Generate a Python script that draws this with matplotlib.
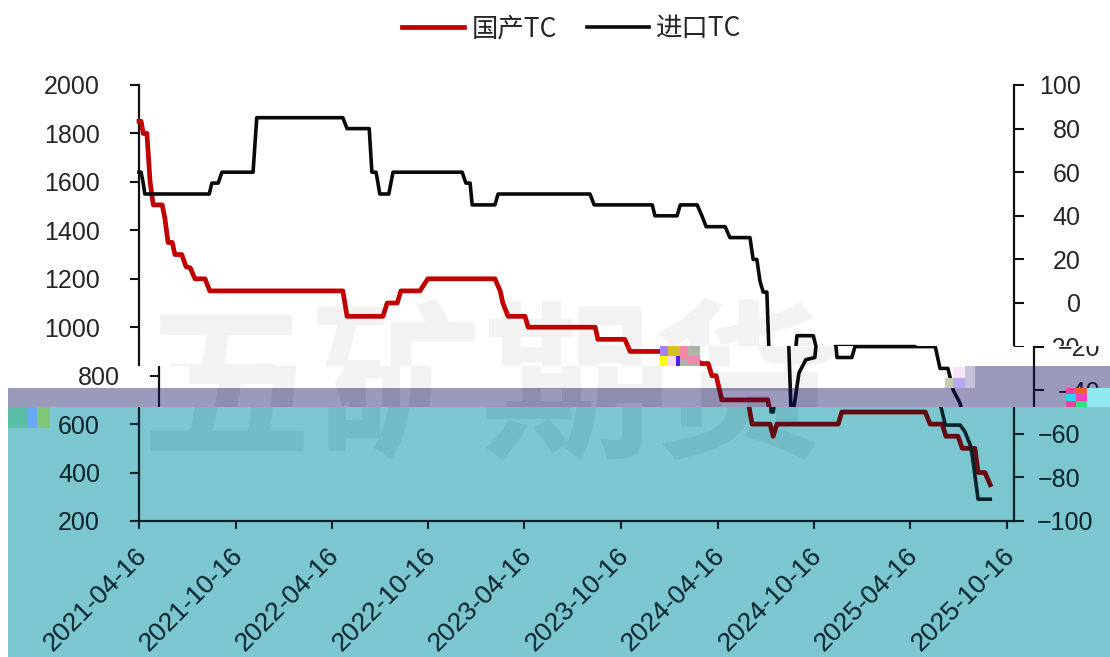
import numpy as np
import matplotlib
matplotlib.use("Agg")
import matplotlib.pyplot as plt
from matplotlib.patches import Rectangle
from matplotlib.lines import Line2D
from matplotlib.transforms import Bbox, IdentityTransform, ScaledTranslation

W, H = 1110, 657
START = np.datetime64("2021-04-16")

red_days = [0,4,8,15,21,27,44,49,55,63,68,81,89,97,106,125,134,386,394,462,470,489,496,532,547,674,684,689,699,731,737,864,869,920,930,1009,1025,1040,1047,1055,1066,1153,1161,1195,1201,1208,1324,1331,1489,1498,1521,1528,1551,1559,1583,1589,1602,1612]
red_vals = [1850,1850,1800,1800,1600,1505,1505,1450,1350,1350,1300,1300,1250,1245,1200,1200,1150,1150,1045,1045,1100,1100,1150,1150,1200,1200,1150,1100,1045,1045,1000,1000,950,950,900,900,850,850,800,800,700,700,600,600,550,600,600,650,650,600,600,550,550,500,500,400,400,350]
black_days = [0,4,8,11,133,138,150,157,216,223,386,394,436,441,449,456,473,481,612,619,627,631,674,680,854,862,972,977,1019,1025,1057,1066,1074,1110,1119,1157,1163,1170,1176,1182,1189,1197,1201,1212,1225,1242,1246,1277,1282,1284,1312,1318,1470,1479,1494,1504,1517,1521,1527,1555,1564,1574,1578,1589,1612]
black_vals = [60,60,55,50,50,55,55,60,60,85,85,80,80,60,60,50,50,60,60,55,55,45,45,50,50,45,45,40,40,45,45,40,35,35,30,30,20,20,10,5,5,-50,-50,-32,-26,-25,-15,-15,-20,-25,-25,-20,-20,-30,-30,-40,-46,-50,-56,-56,-59,-65,-70,-90,-90]
left_ticks = [200,400,600,800,1000,1200,1400,1600,1800,2000]
right_ticks = [-100,-80,-60,-40,-20,0,20,40,60,80,100]
x_tick_labels = ["2021-04-16","2021-10-16","2022-04-16","2022-10-16","2023-04-16","2023-10-16","2024-04-16","2024-10-16","2025-04-16","2025-10-16"]
series_names = ["国产TC","进口TC"]
watermark = "五矿期货"

WHITE = dict(red="#C00000", line="#0a0a0a", ax="#111111", text="#262626", wm="#F2F2F2")
TEAL = dict(red="#640A10", line="#04222A", ax="#04222A", text="#04222A", wm="#72BBC5")
GRAY = dict(red="#700020", line="#0C0A30", ax="#14123A", text="#14123A", wm="#8F8DAE")
TEAL_BG, GRAY_BG = "#7CC6D0", "#9C9ABA"

REGIONS = [
    ((0, 0, W, 346), 0, WHITE),
    ((0, 346, 660, 366), 0, WHITE),
    ((700, 346, W, 366), 20, WHITE),
    ((8, 366, 965, 388), 20, WHITE),
    ((975, 366, W, 388), 20, GRAY),
    ((8, 388, W, 407), 20, GRAY),
    ((8, 407, W, H), 0, TEAL),
]
BACKS = [((975, 366, W, 407), GRAY_BG), ((8, 388, W, 407), GRAY_BG), ((8, 407, W, H), TEAL_BG)]
MOSAIC = [
    ((660, 346, 668, 356), "#A880F0"), ((660, 356, 668, 366), "#FFFF10"),
    ((668, 346, 680, 356), "#D8C020"), ((668, 356, 676, 366), "#F4DCF4"), ((676, 356, 680, 366), "#4A20F0"),
    ((680, 346, 700, 366), "#ACB5A5"), ((680, 346, 688, 360), "#F288A8"), ((688, 356, 700, 364), "#F288A8"),
    ((945, 378, 953, 388), "#C8CCB0"), ((953, 367, 965, 378), "#FCE4F8"), ((953, 378, 965, 388), "#B8A8F8"),
    ((965, 366, 975, 388), "#C4C2D8"),
    ((1066, 388, 1076, 394), "#F040A0"), ((1066, 394, 1076, 401), "#30D0F0"), ((1066, 401, 1076, 407), "#F040A0"),
    ((1076, 388, 1087, 394), "#F06030"), ((1076, 394, 1087, 401), "#F040C0"), ((1076, 401, 1087, 407), "#30E080"),
    ((1087, 388, W, 407), "#90E8F0"),
    ((8, 407, 28, 428), "#5BBFA8"), ((28, 407, 37, 428), "#6AA8F8"), ((37, 407, 50, 428), "#80C878"),
]

def px_rect(r, color):
    x0, y0, x1, y1 = r
    return Rectangle((x0, H - y1), x1 - x0, y1 - y0, transform=IdentityTransform(),
                     facecolor=color, edgecolor="none", zorder=-5)

fig = plt.figure(figsize=(W / 100, H / 100), dpi=100, facecolor="white")
for r, c in BACKS:
    fig.add_artist(px_rect(r, c))

AX_L, AX_R, AX_T, AX_B = 139, 1014, 85, 521
PX_PER_DAY = 0.528
dates_red = START + np.array(red_days, dtype="timedelta64[D]")
dates_black = START + np.array(black_days, dtype="timedelta64[D]")
tick_dates = np.array(x_tick_labels, dtype="datetime64[D]")
xlim = (START, START + np.timedelta64(int((AX_R - AX_L) / PX_PER_DAY), "D"))
FONT = ["Liberation Sans", "DejaVu Sans"]
panels = []

def draw(rect, dx, pal, with_legend):
    x0, y0, x1, y1 = rect
    box = Bbox([[x0, H - y1], [x1, H - y0]])
    ax = fig.add_axes([(AX_L + dx) / W, (H - AX_B) / H, (AX_R - AX_L) / W, (AX_B - AX_T) / H])
    ax.patch.set_visible(False)
    ax2 = ax.twinx()
    ax2.patch.set_visible(False)
    l1, = ax.plot(dates_red, red_vals, color=pal["red"], lw=3.4, zorder=3, solid_joinstyle="round")
    l2, = ax2.plot(dates_black, black_vals, color=pal["line"], lw=2.6, zorder=3, solid_joinstyle="round")
    ax.set_xlim(*xlim)
    ax.set_ylim(200, 2000)
    ax2.set_ylim(-100, 100)
    ax.set_yticks(left_ticks)
    ax2.set_yticks(right_ticks)
    ax.set_xticks(tick_dates)
    ax.set_xticklabels(x_tick_labels, rotation=45, ha="right", rotation_mode="anchor")
    ax.tick_params(axis="y", length=6.5, width=1.5, color=pal["ax"], labelcolor=pal["text"], labelsize=18, pad=21.5)
    ax.tick_params(axis="x", length=6, width=1.5, color=pal["ax"], labelcolor=pal["text"], labelsize=19, pad=10)
    ax2.tick_params(axis="y", length=7, width=1.5, color=pal["ax"], labelcolor=pal["text"], labelsize=18, pad=41)
    for a in (ax, ax2):
        for s in a.spines.values():
            s.set_color(pal["ax"])
            s.set_linewidth(1.6)
            s.set_clip_on(True)
            s.set_clip_box(box)
        a.spines["top"].set_visible(False)
        for t in a.get_xticklabels() + a.get_yticklabels():
            t.set_fontfamily(FONT)
        for axis in (a.xaxis, a.yaxis):
            for tick in axis.get_major_ticks():
                for part in (tick.tick1line, tick.tick2line, tick.label1, tick.label2):
                    part.set_clip_on(True)
                    part.set_clip_box(box)
    for lab, v in zip(ax2.get_yticklabels(), right_ticks):
        lab.set_horizontalalignment("right")
        if v == -100:
            lab.set_transform(lab.get_transform() + ScaledTranslation(13 / 100, 0, fig.dpi_scale_trans))
    for lab in ax.get_xticklabels():
        lab.set_transform(lab.get_transform() + ScaledTranslation(-5 / 100, 0, fig.dpi_scale_trans))
    ax2.xaxis.set_visible(False)
    ax.spines["right"].set_visible(False)
    ax2.spines["left"].set_visible(False)
    ax2.spines["bottom"].set_visible(False)
    for ln in (l1, l2):
        ln.set_clip_box(box)
    wm = ax.text((482 + dx) / W, (H - 395) / H, watermark, transform=fig.transFigure, ha="center", va="center",
                 fontsize=123, fontweight="bold", color=pal["wm"], family="Noto Sans CJK SC", zorder=0.5)
    wm.set_clip_on(True)
    wm.set_clip_box(box)
    if with_legend:
        h1 = Line2D([], [], color=pal["red"], lw=3.4)
        h2 = Line2D([], [], color=pal["line"], lw=2.6)
        ax2.legend([h1, h2], series_names, ncol=2, frameon=False, loc="center",
                   bbox_to_anchor=(572 / W, (H - 29) / H), bbox_transform=fig.transFigure,
                   prop={"family": "Noto Sans CJK SC", "size": 19}, handlelength=2.35,
                   handletextpad=0.3, columnspacing=1.1, labelcolor=pal["text"])
    panels.append((ax, ax2, box))

for i, (rect, dx, pal) in enumerate(REGIONS):
    draw(rect, dx, pal, i == 0)

# Each panel keeps only the labels that show inside its own strip.
fig.canvas.draw()
renderer = fig.canvas.get_renderer()
for ax, ax2, box in panels:
    for lab in ax.get_xticklabels() + ax.get_yticklabels() + ax2.get_yticklabels():
        if not lab.get_window_extent(renderer).overlaps(box):
            lab.set_visible(False)

for r, c in MOSAIC:
    m = px_rect(r, c)
    m.set_zorder(10)
    fig.add_artist(m)

fig.savefig("out.png", dpi=100, facecolor="white")
